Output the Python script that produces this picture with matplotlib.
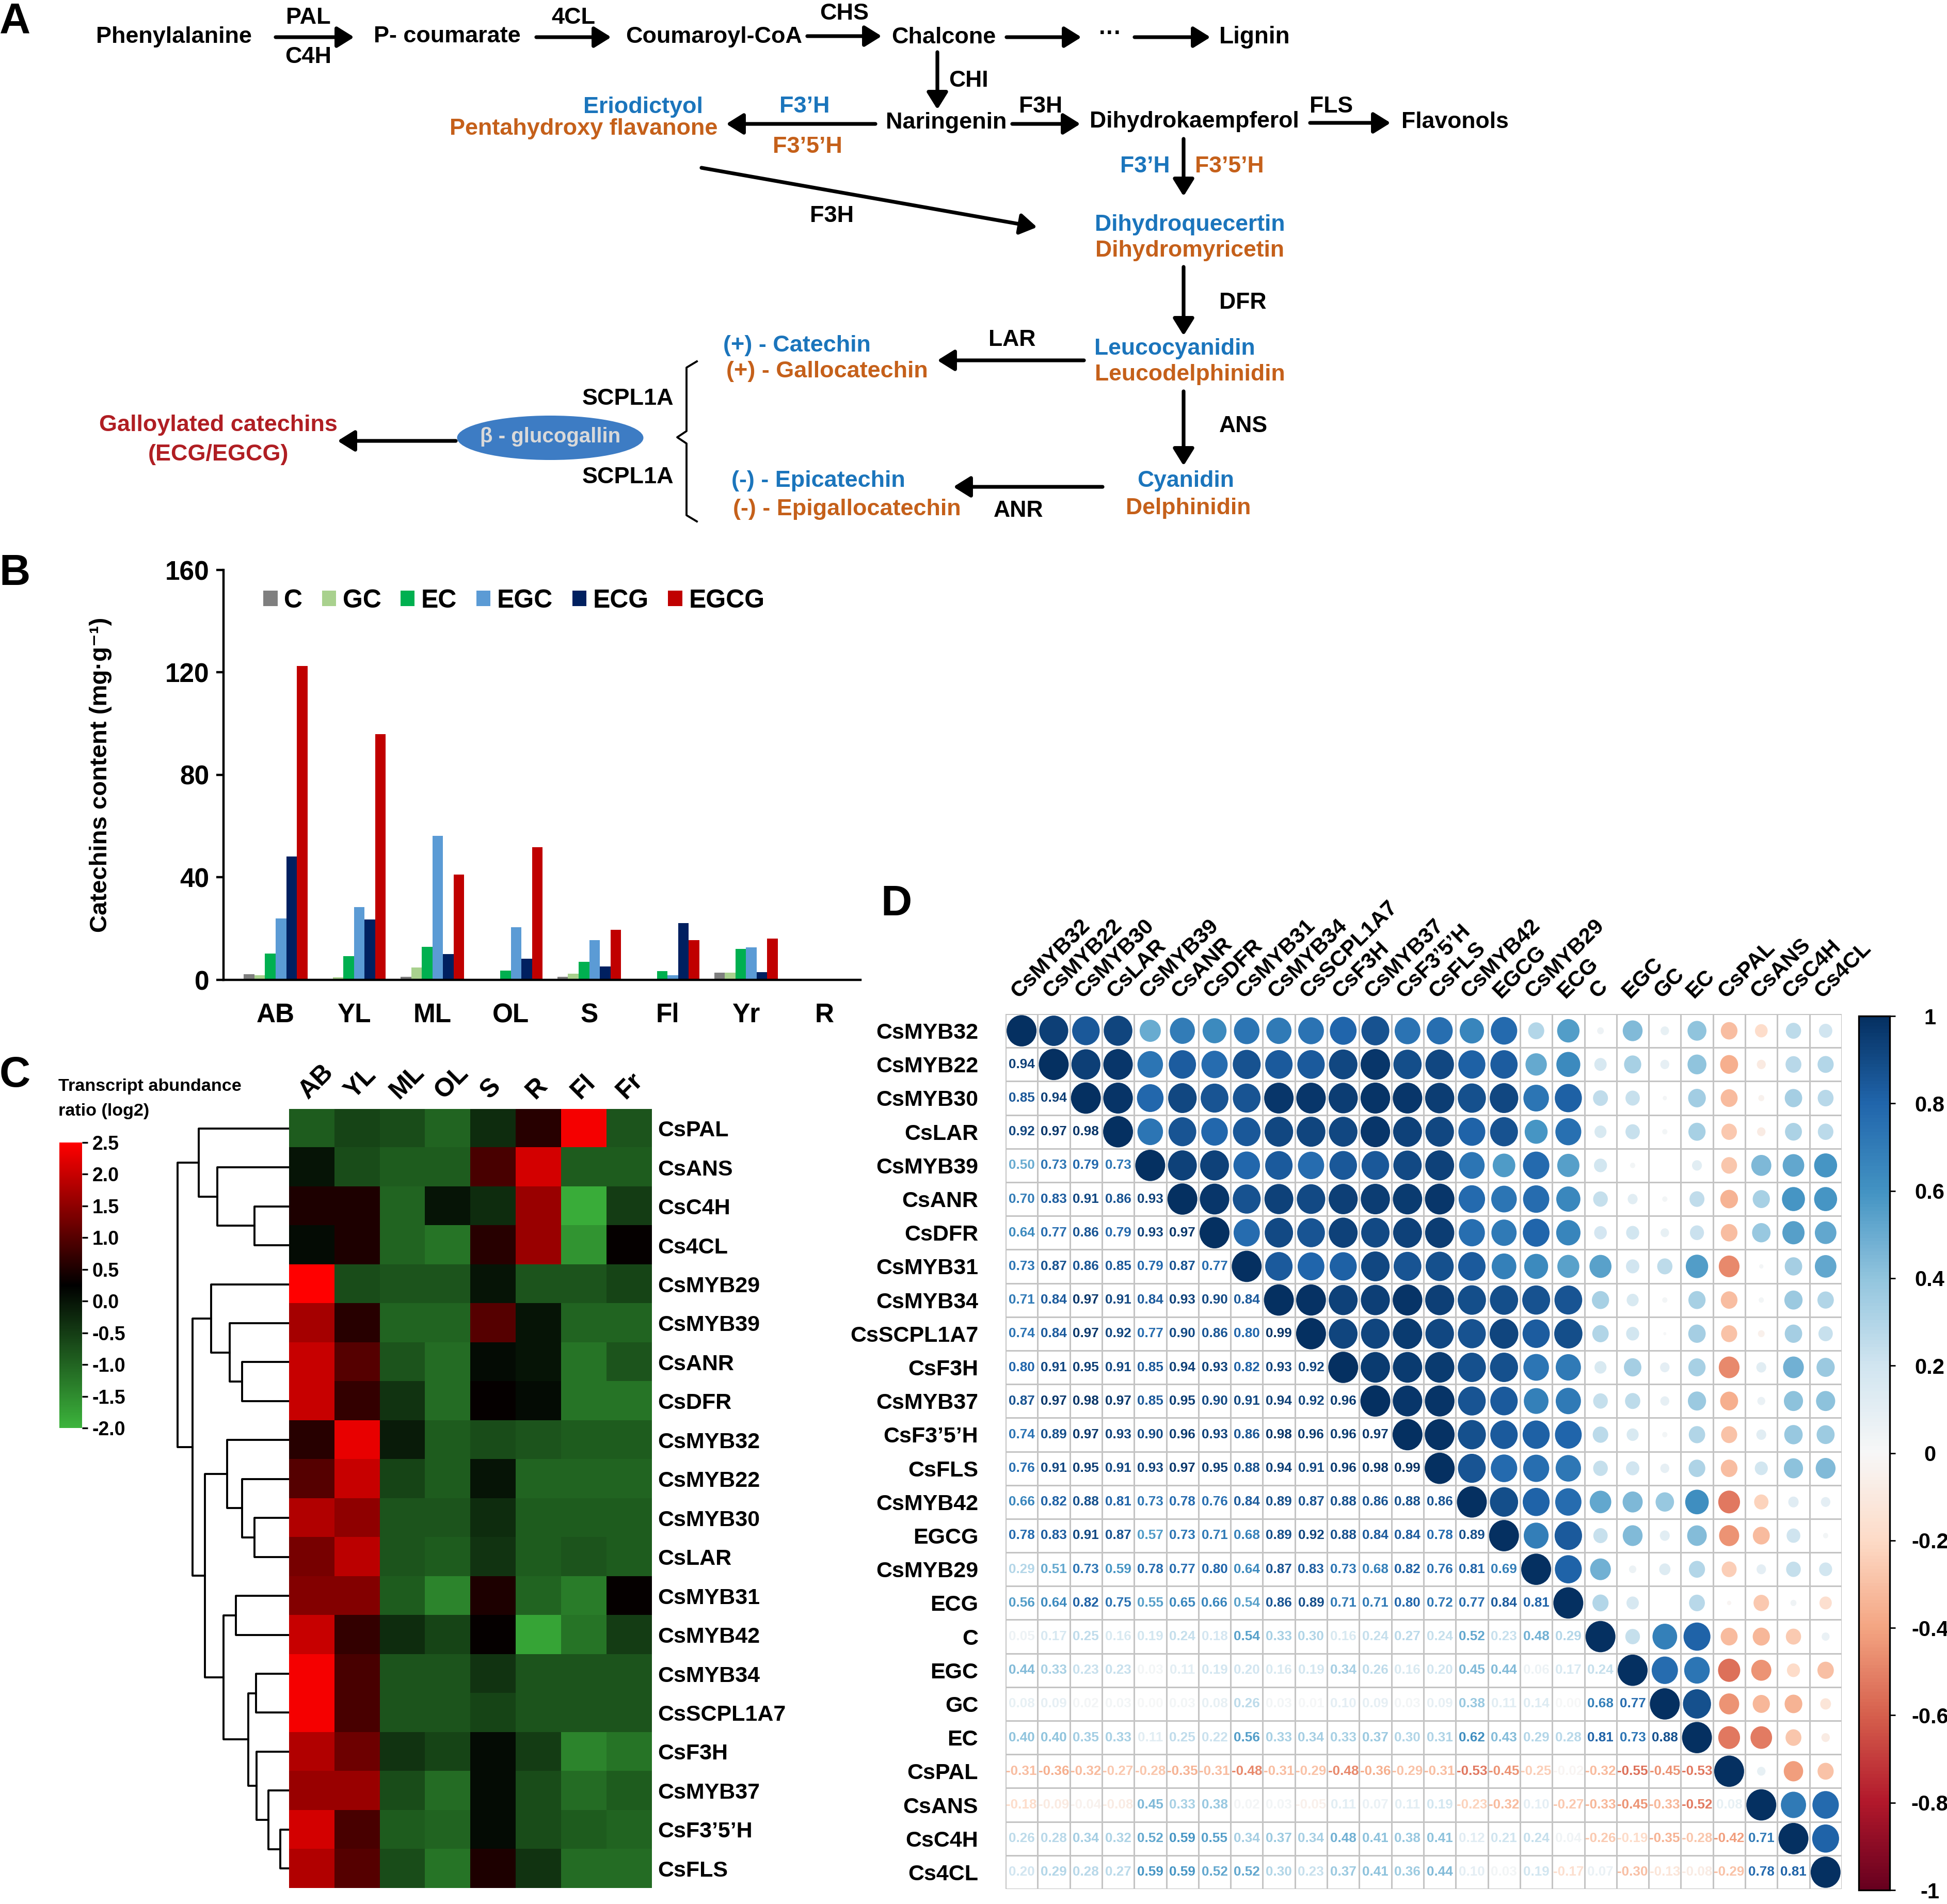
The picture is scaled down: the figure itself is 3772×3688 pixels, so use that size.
import numpy as np
import matplotlib
matplotlib.use("Agg")
import matplotlib.pyplot as plt
from matplotlib import rcParams
from matplotlib.colors import LinearSegmentedColormap, Normalize
from matplotlib.patches import Ellipse
from matplotlib.cm import ScalarMappable

rcParams.update({
    "font.family": ["Liberation Sans", "DejaVu Sans"],
    "font.weight": "bold",
    "axes.labelweight": "bold",
    "axes.linewidth": 1.6,
})

# ---------------------------------------------------------------------------
# Data
# ---------------------------------------------------------------------------
# B: catechin content per tissue (mg/g)
TISSUES_B = ["AB", "YL", "ML", "OL", "S", "Fl", "Yr", "R"]
CATECHINS = ["C", "GC", "EC", "EGC", "ECG", "EGCG"]
C_VAL = [2.2, 0.5, 1.3, 0.3, 1.3, 0.5, 2.9, 0.1]
GC_VAL = [1.8, 1.0, 4.8, 0.2, 2.5, 0.2, 2.8, 0.0]
EC_VAL = [10.3, 9.2, 12.9, 3.7, 7.0, 3.4, 12.1, 0.3]
EGC_VAL = [24.0, 28.5, 56.3, 20.6, 15.6, 1.9, 12.6, 0.1]
ECG_VAL = [48.1, 23.6, 10.0, 8.3, 5.3, 22.2, 3.1, 0.0]
EGCG_VAL = [122.5, 96.0, 41.2, 51.8, 19.5, 15.6, 16.1, 0.1]
BAR_COLORS = ["#7f7f7f", "#a9d18e", "#00b050", "#5b9bd5", "#002060", "#c00000"]

# C: transcript abundance ratio (log2)
TISSUES_C = ["AB", "YL", "ML", "OL", "S", "R", "Fl", "Fr"]
HEAT_GENES = ["CsPAL", "CsANS", "CsC4H", "Cs4CL", "CsMYB29", "CsMYB39", "CsANR",
              "CsDFR", "CsMYB32", "CsMYB22", "CsMYB30", "CsLAR", "CsMYB31",
              "CsMYB42", "CsMYB34", "CsSCPL1A7", "CsF3H", "CsMYB37",
              "CsF3\u20195\u2019H", "CsFLS"]
HEAT_VALUES = [
    [-0.9, -0.6, -0.7, -1.0, -0.3, 0.6, 2.4, -0.8],
    [0.0, -0.7, -0.9, -0.9, 0.9, 2.1, -0.9, -0.9],
    [0.5, 0.5, -1.0, 0.0, -0.3, 1.6, -1.9, -0.5],
    [0.1, 0.5, -1.0, -1.2, 0.6, 1.6, -1.6, 0.3],
    [2.5, -0.7, -0.8, -0.8, 0.0, -0.8, -0.8, -0.6],
    [1.7, 0.6, -1.0, -1.0, 1.0, 0.0, -1.0, -1.0],
    [2.0, 1.0, -0.8, -1.1, 0.1, 0.0, -1.2, -0.8],
    [2.0, 0.7, -0.4, -1.1, 0.3, 0.1, -1.2, -1.2],
    [0.6, 2.3, -0.1, -0.9, -0.7, -0.8, -0.9, -0.9],
    [1.0, 2.0, -0.6, -0.9, 0.0, -1.0, -1.0, -1.0],
    [1.8, 1.5, -0.8, -0.8, -0.3, -0.9, -0.9, -0.9],
    [1.3, 1.9, -0.8, -0.9, -0.4, -0.9, -0.8, -0.9],
    [1.4, 1.4, -0.9, -1.4, 0.5, -1.0, -1.3, 0.3],
    [2.0, 0.7, -0.3, -0.6, 0.3, -1.8, -1.2, -0.5],
    [2.4, 0.9, -0.8, -0.8, -0.4, -0.8, -0.8, -0.8],
    [2.4, 0.9, -0.8, -0.8, -0.6, -0.8, -0.8, -0.8],
    [1.8, 1.2, -0.4, -0.6, 0.1, -0.5, -1.4, -1.2],
    [1.6, 1.6, -0.7, -1.1, 0.1, -0.7, -1.1, -0.9],
    [2.1, 0.9, -0.9, -1.0, 0.1, -0.7, -0.9, -1.0],
    [1.8, 1.0, -0.7, -1.2, 0.5, -0.4, -1.1, -1.1],
]
# hierarchical clustering of the heatmap rows: (child, child, height)
DENDRO_MERGES = [
    (2, 3, 67), (1, 20, 139), (0, 21, 175),
    (6, 7, 91), (5, 23, 115), (4, 24, 151),
    (10, 11, 67), (9, 26, 91), (8, 27, 120),
    (18, 19, 17), (17, 29, 40), (16, 30, 63), (14, 15, 64), (32, 31, 79),
    (12, 13, 103), (34, 33, 127), (28, 35, 163), (25, 36, 187), (22, 37, 216),
]

# D: correlation matrix (lower triangle, rows 2..26)
CORR_LABELS = ["CsMYB32", "CsMYB22", "CsMYB30", "CsLAR", "CsMYB39", "CsANR",
               "CsDFR", "CsMYB31", "CsMYB34", "CsSCPL1A7", "CsF3H", "CsMYB37",
               "CsF3\u20195\u2019H", "CsFLS", "CsMYB42", "EGCG", "CsMYB29", "ECG",
               "C", "EGC", "GC", "EC", "CsPAL", "CsANS", "CsC4H", "Cs4CL"]
CORR_LOWER = [
    [0.94],
    [0.85, 0.94],
    [0.92, 0.97, 0.98],
    [0.50, 0.73, 0.79, 0.73],
    [0.70, 0.83, 0.91, 0.86, 0.93],
    [0.64, 0.77, 0.86, 0.79, 0.93, 0.97],
    [0.73, 0.87, 0.86, 0.85, 0.79, 0.87, 0.77],
    [0.71, 0.84, 0.97, 0.91, 0.84, 0.93, 0.90, 0.84],
    [0.74, 0.84, 0.97, 0.92, 0.77, 0.90, 0.86, 0.80, 0.99],
    [0.80, 0.91, 0.95, 0.91, 0.85, 0.94, 0.93, 0.82, 0.93, 0.92],
    [0.87, 0.97, 0.98, 0.97, 0.85, 0.95, 0.90, 0.91, 0.94, 0.92, 0.96],
    [0.74, 0.89, 0.97, 0.93, 0.90, 0.96, 0.93, 0.86, 0.98, 0.96, 0.96, 0.97],
    [0.76, 0.91, 0.95, 0.91, 0.93, 0.97, 0.95, 0.88, 0.94, 0.91, 0.96, 0.98, 0.99],
    [0.66, 0.82, 0.88, 0.81, 0.73, 0.78, 0.76, 0.84, 0.89, 0.87, 0.88, 0.86, 0.88, 0.86],
    [0.78, 0.83, 0.91, 0.87, 0.57, 0.73, 0.71, 0.68, 0.89, 0.92, 0.88, 0.84, 0.84, 0.78,
     0.89],
    [0.29, 0.51, 0.73, 0.59, 0.78, 0.77, 0.80, 0.64, 0.87, 0.83, 0.73, 0.68, 0.82, 0.76,
     0.81, 0.69],
    [0.56, 0.64, 0.82, 0.75, 0.55, 0.65, 0.66, 0.54, 0.86, 0.89, 0.71, 0.71, 0.80, 0.72,
     0.77, 0.84, 0.81],
    [0.05, 0.17, 0.25, 0.16, 0.19, 0.24, 0.18, 0.54, 0.33, 0.30, 0.16, 0.24, 0.27, 0.24,
     0.52, 0.23, 0.48, 0.29],
    [0.44, 0.33, 0.23, 0.23, 0.03, 0.11, 0.19, 0.20, 0.16, 0.19, 0.34, 0.26, 0.16, 0.20,
     0.45, 0.44, 0.06, 0.17, 0.24],
    [0.08, 0.09, 0.02, 0.03, 0.00, 0.03, 0.08, 0.26, 0.03, 0.01, 0.10, 0.09, 0.03, 0.09,
     0.38, 0.11, 0.14, 0.00, 0.68, 0.77],
    [0.40, 0.40, 0.35, 0.33, 0.11, 0.25, 0.22, 0.56, 0.33, 0.34, 0.33, 0.37, 0.30, 0.31,
     0.62, 0.43, 0.29, 0.28, 0.81, 0.73, 0.88],
    [-0.31, -0.36, -0.32, -0.27, -0.28, -0.35, -0.31, -0.48, -0.31, -0.29, -0.48, -0.36,
     -0.29, -0.31, -0.53, -0.45, -0.25, -0.02, -0.32, -0.55, -0.45, -0.53],
    [-0.18, -0.09, -0.04, -0.08, 0.45, 0.33, 0.38, 0.02, 0.03, -0.05, 0.11, 0.07, 0.11,
     0.19, -0.23, -0.32, 0.10, -0.27, -0.33, -0.45, -0.33, -0.52, 0.08],
    [0.26, 0.28, 0.34, 0.32, 0.52, 0.59, 0.55, 0.34, 0.37, 0.34, 0.48, 0.41, 0.38, 0.41,
     0.12, 0.21, 0.24, 0.04, -0.26, -0.19, -0.35, -0.28, -0.42, 0.71],
    [0.20, 0.29, 0.28, 0.27, 0.59, 0.59, 0.52, 0.52, 0.30, 0.23, 0.37, 0.41, 0.36, 0.44,
     0.10, 0.03, 0.19, -0.17, 0.07, -0.30, -0.13, -0.08, -0.29, 0.78, 0.81],
]

# ---------------------------------------------------------------------------
# Figure (layout measured in output pixels)
# ---------------------------------------------------------------------------
W, H, DPI = 3772, 3688, 200
fig = plt.figure(figsize=(W / DPI, H / DPI), dpi=DPI)


def rect(x0, y0, x1, y1):
    return [x0 / W, 1 - y1 / H, (x1 - x0) / W, (y1 - y0) / H]


# --- Panel A: pathway diagram ----------------------------------------------
axA = fig.add_axes([0, 0, 1, 1])
axA.set_xlim(0, W)
axA.set_ylim(H, 0)
axA.axis("off")
BLUE, ORANGE, DRED = "#1b75bc", "#c5601a", "#b01e23"


def txt(x, y, s, color="black", size=16.2, ha="center"):
    axA.text(x, y, s, color=color, fontsize=size, ha=ha, va="center",
             fontweight="bold")


def arrow(x0, y0, x1, y1):
    axA.annotate("", xy=(x1, y1), xytext=(x0, y0),
                 arrowprops=dict(arrowstyle="-|>,head_length=0.45,head_width=0.28",
                                 lw=2.6, color="black", shrinkA=0, shrinkB=0,
                                 mutation_scale=22))


txt(337, 72, "Phenylalanine")
arrow(534, 72, 686, 72)
txt(597, 34, "PAL")
txt(597, 111, "C4H")
txt(866, 70, "P- coumarate")
arrow(1039, 72, 1184, 72)
txt(1111, 34, "4CL")
txt(1383, 72, "Coumaroyl-CoA")
arrow(1564, 70, 1708, 70)
txt(1636, 26, "CHS")
txt(1828, 72, "Chalcone")
arrow(1950, 72, 2095, 72)
txt(2151, 66, "\u00b7\u00b7\u00b7")
arrow(2198, 72, 2345, 72)
txt(2431, 72, "Lignin", size=16.5)
arrow(1816, 101, 1816, 212)
txt(1876, 156, "CHI", size=16)
txt(1833, 238, "Naringenin")
arrow(1696, 240, 1407, 240)
txt(1559, 207, "F3\u2019H", color=BLUE)
txt(1564, 284, "F3\u20195\u2019H", color=ORANGE)
txt(1246, 207, "Eriodictyol", color=BLUE)
txt(1131, 250, "Pentahydroxy flavanone", color=ORANGE)
arrow(1961, 240, 2093, 240)
txt(2016, 207, "F3H", size=16)
txt(2314, 236, "Dihydrokaempferol", size=16)
arrow(2538, 238, 2694, 238)
txt(2579, 207, "FLS", size=16)
txt(2819, 236, "Flavonols", size=16)
arrow(2293, 269, 2293, 380)
txt(2218, 322, "F3\u2019H", color=BLUE, size=16)
txt(2382, 322, "F3\u20195\u2019H", color=ORANGE, size=16)
arrow(1359, 325, 2009, 440)
txt(1612, 419, "F3H")
txt(2305, 435, "Dihydroquecertin", color=BLUE, size=16)
txt(2305, 486, "Dihydromyricetin", color=ORANGE, size=16)
arrow(2293, 517, 2293, 650)
txt(2362, 587, "DFR", size=16, ha="left")
txt(2276, 676, "Leucocyanidin", color=BLUE, size=16)
txt(2305, 726, "Leucodelphinidin", color=ORANGE, size=16)
arrow(2100, 698, 1816, 698)
txt(1961, 659, "LAR", size=16)
txt(1544, 669, "(+) - Catechin", color=BLUE)
txt(1602, 719, "(+) - Gallocatechin", color=ORANGE)
arrow(2293, 758, 2293, 902)
txt(2362, 825, "ANS", size=16, ha="left")
txt(2297, 931, "Cyanidin", color=BLUE, size=16)
txt(2302, 984, "Delphinidin", color=ORANGE, size=16)
arrow(2136, 943, 1847, 943)
txt(1973, 989, "ANR", size=16)
txt(1585, 931, "(-) - Epicatechin", color=BLUE)
txt(1641, 986, "(-) - Epigallocatechin", color=ORANGE)
axA.plot([1350, 1330, 1330, 1312, 1330, 1330, 1350],
         [700, 712, 835, 847, 859, 998, 1010], color="black", lw=1.4)
txt(1217, 772, "SCPL1A")
txt(1217, 924, "SCPL1A")
axA.add_patch(Ellipse((1066, 848), 361, 86, facecolor="#3d7cc4", edgecolor="none"))
txt(1066, 846, "\u03b2 - glucogallin", color="#d9d9d9", size=14.5)
arrow(883, 854, 654, 854)
txt(423, 823, "Galloylated catechins", color=DRED)
txt(423, 880, "(ECG/EGCG)", color=DRED)

for lab, (x, y) in {"A": (29, 43), "B": (29, 1111), "C": (29, 2083),
                    "D": (1737, 1751)}.items():
    axA.text(x, y, lab, fontsize=30, fontweight="bold", ha="center", va="center")

# --- Panel B: bar chart ------------------------------------------------------
axB = fig.add_axes(rect(433, 1104, 1667, 1898))
series = [C_VAL, GC_VAL, EC_VAL, EGC_VAL, ECG_VAL, EGCG_VAL]
xb = np.arange(len(TISSUES_B))
bw = 0.135
for k, (vals, name, col) in enumerate(zip(series, CATECHINS, BAR_COLORS)):
    axB.bar(xb + (k - 2.5) * bw, vals, width=bw, color=col, label=name)
axB.set_xlim(-0.665, 7.46)
axB.set_ylim(0, 160)
axB.set_yticks([0, 40, 80, 120, 160])
axB.set_xticks(xb)
axB.set_xticklabels(TISSUES_B, fontsize=18.5)
axB.tick_params(axis="y", labelsize=18.5)
axB.tick_params(axis="x", length=0, pad=16)
axB.tick_params(axis="y", length=5, width=1.6, pad=5)
for s in ["top", "right"]:
    axB.spines[s].set_visible(False)
axB.set_ylabel("Catechins content (mg\u00b7g\u207b\u00b9)", fontsize=17)
axB.yaxis.set_label_coords(-0.175, 0.5)
axB.legend(loc="upper left", bbox_to_anchor=(0.026, 1.01), ncol=6, frameon=False,
           handlelength=0.55, handleheight=0.55, handletextpad=0.25,
           columnspacing=0.75, prop={"size": 18, "weight": "bold"})

# --- Panel C: heatmap + dendrogram -------------------------------------------
heat_cmap = LinearSegmentedColormap.from_list(
    "gkr", [(0.0, "#3cb43c"), (0.5, "#000000"), (1.0, "#ff0000")])
axC = fig.add_axes(rect(560, 2148, 1263, 3657))
axC.imshow(np.array(HEAT_VALUES), cmap=heat_cmap, vmin=-2.0, vmax=2.5,
           aspect="auto", interpolation="nearest")
axC.set_xticks(range(len(TISSUES_C)))
axC.set_xticklabels(TISSUES_C, rotation=45, ha="left", va="bottom",
                    rotation_mode="anchor", fontsize=18)
axC.xaxis.tick_top()
axC.set_yticks(range(len(HEAT_GENES)))
axC.set_yticklabels(HEAT_GENES, fontsize=15.5)
axC.yaxis.tick_right()
axC.tick_params(length=0, pad=4)
for s in axC.spines.values():
    s.set_visible(False)

axDen = fig.add_axes(rect(340, 2148, 560, 3657))
pos = {i: (0.0, i) for i in range(len(HEAT_GENES))}
for k, (a, b, h) in enumerate(DENDRO_MERGES):
    xa, ya = pos[a]
    xb_, yb = pos[b]
    axDen.plot([xa, h, h, xb_], [ya, ya, yb, yb], color="black", lw=1.4)
    pos[len(HEAT_GENES) + k] = (h, (ya + yb) / 2)
axDen.set_xlim(220, 0)
axDen.set_ylim(len(HEAT_GENES) - 0.5, -0.5)
axDen.axis("off")

caxC = fig.add_axes(rect(115, 2213, 159, 2766))
cbC = fig.colorbar(ScalarMappable(Normalize(-2.0, 2.5), heat_cmap), cax=caxC)
cbC.outline.set_visible(False)
cbC.set_ticks(np.arange(-2.0, 2.51, 0.5))
cbC.set_ticklabels([f"{v:.1f}" for v in np.arange(-2.0, 2.51, 0.5)])
caxC.tick_params(length=4, width=1.2, pad=3, labelsize=13.5)
fig.text(113 / W, 1 - 2105 / H, "Transcript abundance", fontsize=12.3,
         fontweight="bold", ha="left", va="center")
fig.text(113 / W, 1 - 2153 / H, "ratio (log2)", fontsize=12.3,
         fontweight="bold", ha="left", va="center")

# --- Panel D: correlation plot ----------------------------------------------
n = len(CORR_LABELS)
corr = np.eye(n)
for i, row in enumerate(CORR_LOWER, start=1):
    for j, v in enumerate(row):
        corr[i, j] = corr[j, i] = v
rdbu = plt.cm.RdBu
cnorm = Normalize(-1, 1)

axD = fig.add_axes(rect(1948, 1964, 3568, 3659))
axD.set_xlim(0, n)
axD.set_ylim(n, 0)
for k in range(n + 1):
    axD.axhline(k, color="#c4c4c4", lw=1.1, zorder=1)
    axD.axvline(k, color="#c4c4c4", lw=1.1, zorder=1)
for i in range(n):
    for j in range(n):
        r = corr[i, j]
        if j >= i:
            d = 0.93 * np.sqrt(abs(r))
            axD.add_patch(Ellipse((j + 0.5, i + 0.5), d, d, facecolor=rdbu(cnorm(r)),
                                  edgecolor="none", zorder=2))
        else:
            axD.text(j + 0.5, i + 0.5, f"{r:.2f}", ha="center", va="center",
                     fontsize=9.4, fontweight="bold",
                     color=rdbu(cnorm(r)), zorder=3)
axD.set_xticks(np.arange(n) + 0.5)
axD.set_xticklabels(CORR_LABELS, rotation=45, ha="left", va="bottom",
                    rotation_mode="anchor", fontsize=15.5)
axD.xaxis.tick_top()
axD.set_yticks(np.arange(n) + 0.5)
axD.set_yticklabels(CORR_LABELS, fontsize=15.5)
axD.tick_params(length=0)
axD.tick_params(axis="y", pad=19)
axD.tick_params(axis="x", pad=8)
for s in axD.spines.values():
    s.set_visible(False)

caxD = fig.add_axes(rect(3601, 1968, 3661, 3661))
cbD = fig.colorbar(ScalarMappable(cnorm, rdbu), cax=caxD)
cbD.outline.set_linewidth(1.2)
ticksD = np.linspace(-1, 1, 11)
cbD.set_ticks(ticksD)
cbD.set_ticklabels(["-1", "-0.8", "-0.6", "-0.4", "-0.2", "0", "0.2", "0.4", "0.6",
                    "0.8", "1"])
caxD.tick_params(length=4, width=1.0, pad=24, labelsize=15)
for t in caxD.get_yticklabels():
    t.set_ha("center")

fig.savefig("out.png", dpi=DPI)
